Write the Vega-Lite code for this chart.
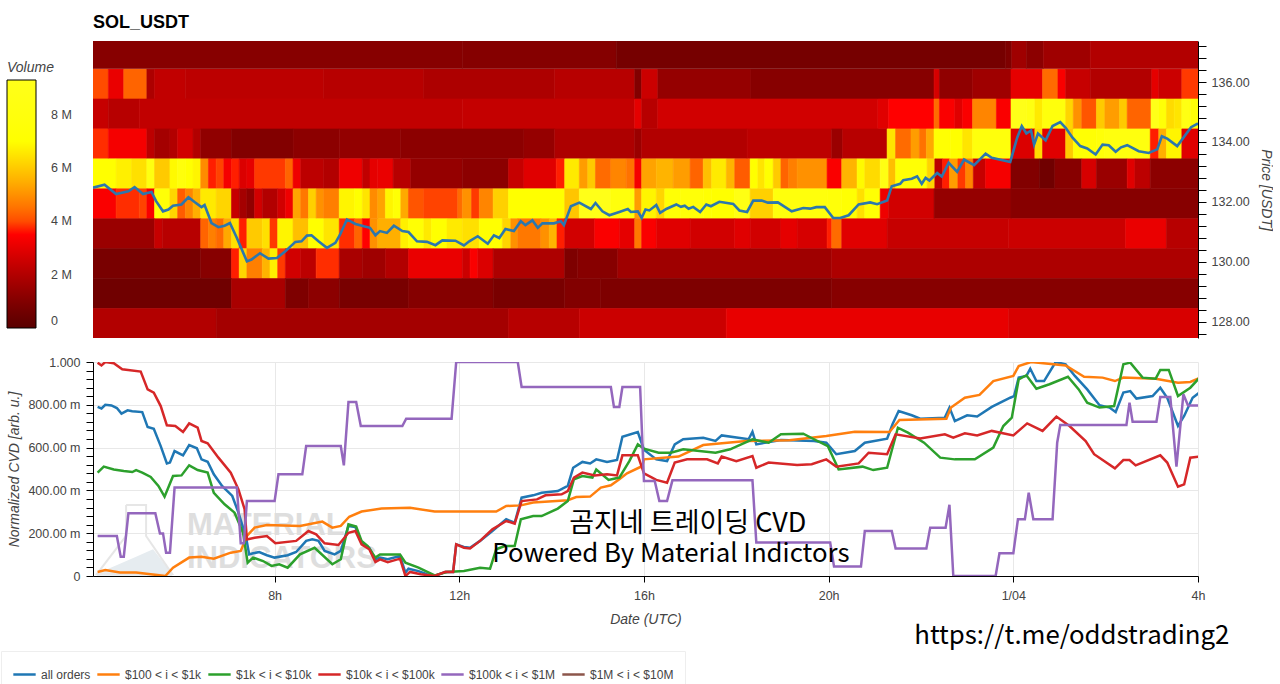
{
"$schema":"https://vega.github.io/schema/vega-lite/v6.json",
"background":"white",
"padding":{"left":0,"top":14,"right":0,"bottom":0},
"bounds":"flush",
"spacing":24,
"config":{"view":{"stroke":null},"font":"Liberation Sans","axis":{"labelFont":"Liberation Sans","labelFontSize":12.5,"labelColor":"#444","titleFont":"Liberation Sans","titleFontSize":14,"titleFontStyle":"italic","titleFontWeight":"normal","titleColor":"#444","domainColor":"#000","tickColor":"#000","gridColor":"#e8e8e8","labelOverlap":false,"labelBound":false,"labelFlush":false}},
"datasets":{
"heatTop":[
{"m":244,"e":724,"l":136.45,"h":137.37,"v":1.1},{"m":724,"e":924,"l":136.45,"h":137.37,"v":1.05},{"m":924,"e":1430,"l":136.45,"h":137.37,"v":0.72},{"m":1430,"e":1438,"l":136.45,"h":137.37,"v":0.9},{"m":1438,"e":1457,"l":136.45,"h":137.37,"v":1.6},{"m":1457,"e":1479,"l":136.45,"h":137.37,"v":1.2},{"m":1479,"e":1540,"l":136.45,"h":137.37,"v":1.6},{"m":1540,"e":1684,"l":136.45,"h":137.37,"v":2}
],
"heat":[
{"m":244,"e":264,"p":136,"v":4},{"m":264,"e":284,"p":136,"v":3.1},{"m":284,"e":314,"p":136,"v":4.3},{"m":314,"e":324,"p":136,"v":1.9},{"m":324,"e":364,"p":136,"v":2.3},{"m":364,"e":544,"p":136,"v":2.2},{"m":544,"e":674,"p":136,"v":2.1},{"m":674,"e":844,"p":136,"v":1.9},{"m":844,"e":948,"p":136,"v":2.1},{"m":948,"e":957,"p":136,"v":1},{"m":957,"e":978,"p":136,"v":2.5},{"m":978,"e":1099,"p":136,"v":1.4},{"m":1099,"e":1337,"p":136,"v":1.1},{"m":1337,"e":1344,"p":136,"v":2.7},{"m":1344,"e":1387,"p":136,"v":1.3},{"m":1387,"e":1437,"p":136,"v":1.6},{"m":1437,"e":1478,"p":136,"v":3},{"m":1478,"e":1498,"p":136,"v":4.4},{"m":1498,"e":1508,"p":136,"v":3.4},{"m":1508,"e":1540,"p":136,"v":2.4},{"m":1540,"e":1620,"p":136,"v":2},{"m":1620,"e":1629,"p":136,"v":3},{"m":1629,"e":1659,"p":136,"v":2.5},{"m":1659,"e":1684,"p":136,"v":3.8},
{"m":244,"e":264,"p":135,"v":2.4},{"m":264,"e":304,"p":135,"v":2.1},{"m":304,"e":724,"p":135,"v":2.3},{"m":724,"e":948,"p":135,"v":2.35},{"m":948,"e":957,"p":135,"v":3},{"m":957,"e":978,"p":135,"v":2.1},{"m":978,"e":1264,"p":135,"v":2.6},{"m":1264,"e":1278,"p":135,"v":2.9},{"m":1278,"e":1337,"p":135,"v":3.5},{"m":1337,"e":1344,"p":135,"v":4.4},{"m":1344,"e":1364,"p":135,"v":3.4},{"m":1364,"e":1374,"p":135,"v":2.9},{"m":1374,"e":1387,"p":135,"v":3.4},{"m":1387,"e":1418,"p":135,"v":4.8},{"m":1418,"e":1437,"p":135,"v":3.4},{"m":1437,"e":1457,"p":135,"v":9.2},{"m":1457,"e":1468,"p":135,"v":8.4},{"m":1468,"e":1478,"p":135,"v":6.6},{"m":1478,"e":1508,"p":135,"v":7.9},{"m":1508,"e":1518,"p":135,"v":6.2},{"m":1518,"e":1529,"p":135,"v":5},{"m":1529,"e":1548,"p":135,"v":4.1},{"m":1548,"e":1559,"p":135,"v":6},{"m":1559,"e":1578,"p":135,"v":5.2},{"m":1578,"e":1588,"p":135,"v":6},{"m":1588,"e":1619,"p":135,"v":4.3},{"m":1619,"e":1629,"p":135,"v":9.2},{"m":1629,"e":1639,"p":135,"v":7.5},{"m":1639,"e":1649,"p":135,"v":6.3},{"m":1649,"e":1659,"p":135,"v":6.5},{"m":1659,"e":1670,"p":135,"v":8.6},{"m":1670,"e":1684,"p":135,"v":7.6},
{"m":244,"e":264,"p":134,"v":3.7},{"m":264,"e":314,"p":134,"v":3.3},{"m":314,"e":324,"p":134,"v":2.2},{"m":324,"e":344,"p":134,"v":1.7},{"m":344,"e":354,"p":134,"v":2},{"m":354,"e":374,"p":134,"v":2.6},{"m":374,"e":384,"p":134,"v":2},{"m":384,"e":424,"p":134,"v":1.3},{"m":424,"e":504,"p":134,"v":1},{"m":504,"e":564,"p":134,"v":1.2},{"m":564,"e":644,"p":134,"v":1.35},{"m":644,"e":804,"p":134,"v":1.2},{"m":804,"e":844,"p":134,"v":1.4},{"m":844,"e":948,"p":134,"v":1.9},{"m":948,"e":957,"p":134,"v":1.5},{"m":957,"e":1094,"p":134,"v":2},{"m":1094,"e":1204,"p":134,"v":2.2},{"m":1204,"e":1218,"p":134,"v":1.5},{"m":1218,"e":1276,"p":134,"v":2.1},{"m":1276,"e":1287,"p":134,"v":6.5},{"m":1287,"e":1307,"p":134,"v":4.4},{"m":1307,"e":1318,"p":134,"v":5.2},{"m":1318,"e":1327,"p":134,"v":4.5},{"m":1327,"e":1337,"p":134,"v":5.4},{"m":1337,"e":1358,"p":134,"v":7.2},{"m":1358,"e":1374,"p":134,"v":7},{"m":1374,"e":1387,"p":134,"v":6.5},{"m":1387,"e":1437,"p":134,"v":7.9},{"m":1437,"e":1468,"p":134,"v":2.8},{"m":1468,"e":1478,"p":134,"v":6.3},{"m":1478,"e":1508,"p":134,"v":2.9},{"m":1508,"e":1518,"p":134,"v":6},{"m":1518,"e":1548,"p":134,"v":7.3},{"m":1548,"e":1559,"p":134,"v":7.6},{"m":1559,"e":1618,"p":134,"v":8.1},{"m":1618,"e":1629,"p":134,"v":3.6},{"m":1629,"e":1639,"p":134,"v":5.5},{"m":1639,"e":1659,"p":134,"v":6.8},{"m":1659,"e":1684,"p":134,"v":2.9},
{"m":244,"e":274,"p":133,"v":7},{"m":274,"e":294,"p":133,"v":6.7},{"m":294,"e":314,"p":133,"v":6.4},{"m":314,"e":324,"p":133,"v":8.3},{"m":324,"e":344,"p":133,"v":6},{"m":344,"e":354,"p":133,"v":6.9},{"m":354,"e":364,"p":133,"v":7.8},{"m":364,"e":374,"p":133,"v":7.1},{"m":374,"e":384,"p":133,"v":6.8},{"m":384,"e":394,"p":133,"v":4.9},{"m":394,"e":404,"p":133,"v":3.6},{"m":404,"e":414,"p":133,"v":3.9},{"m":414,"e":424,"p":133,"v":3.3},{"m":424,"e":434,"p":133,"v":3.6},{"m":434,"e":444,"p":133,"v":2.8},{"m":444,"e":454,"p":133,"v":3},{"m":454,"e":494,"p":133,"v":3.8},{"m":494,"e":504,"p":133,"v":4.3},{"m":504,"e":514,"p":133,"v":3.2},{"m":514,"e":544,"p":133,"v":2.2},{"m":544,"e":564,"p":133,"v":2},{"m":564,"e":594,"p":133,"v":3.2},{"m":594,"e":604,"p":133,"v":2.3},{"m":604,"e":614,"p":133,"v":3},{"m":614,"e":634,"p":133,"v":3.1},{"m":634,"e":657,"p":133,"v":2.1},{"m":657,"e":724,"p":133,"v":1.4},{"m":724,"e":784,"p":133,"v":1.2},{"m":784,"e":804,"p":133,"v":2.4},{"m":804,"e":846,"p":133,"v":2.9},{"m":846,"e":857,"p":133,"v":3.6},{"m":857,"e":876,"p":133,"v":6.6},{"m":876,"e":887,"p":133,"v":5.2},{"m":887,"e":897,"p":133,"v":6},{"m":897,"e":917,"p":133,"v":4.4},{"m":917,"e":937,"p":133,"v":4.8},{"m":937,"e":948,"p":133,"v":4.5},{"m":948,"e":957,"p":133,"v":3.3},{"m":957,"e":976,"p":133,"v":5.3},{"m":976,"e":998,"p":133,"v":5.6},{"m":998,"e":1020,"p":133,"v":5.2},{"m":1020,"e":1037,"p":133,"v":4.3},{"m":1037,"e":1048,"p":133,"v":5.8},{"m":1048,"e":1067,"p":133,"v":6.6},{"m":1067,"e":1078,"p":133,"v":5.6},{"m":1078,"e":1098,"p":133,"v":4.2},{"m":1098,"e":1108,"p":133,"v":7},{"m":1108,"e":1117,"p":133,"v":6.5},{"m":1117,"e":1128,"p":133,"v":7.1},{"m":1128,"e":1138,"p":133,"v":6},{"m":1138,"e":1148,"p":133,"v":4.3},{"m":1148,"e":1159,"p":133,"v":4.7},{"m":1159,"e":1198,"p":133,"v":5},{"m":1198,"e":1217,"p":133,"v":3.4},{"m":1217,"e":1237,"p":133,"v":5.6},{"m":1237,"e":1247,"p":133,"v":6.9},{"m":1247,"e":1267,"p":133,"v":6.3},{"m":1267,"e":1278,"p":133,"v":8.6},{"m":1278,"e":1287,"p":133,"v":5.8},{"m":1287,"e":1328,"p":133,"v":7.4},{"m":1328,"e":1338,"p":133,"v":6.2},{"m":1338,"e":1348,"p":133,"v":2.2},{"m":1348,"e":1357,"p":133,"v":3.6},{"m":1357,"e":1368,"p":133,"v":5.2},{"m":1368,"e":1378,"p":133,"v":3.8},{"m":1378,"e":1388,"p":133,"v":4.8},{"m":1388,"e":1404,"p":133,"v":2.4},{"m":1404,"e":1437,"p":133,"v":3.3},{"m":1437,"e":1474,"p":133,"v":1},{"m":1474,"e":1494,"p":133,"v":0.6},{"m":1494,"e":1529,"p":133,"v":1.1},{"m":1529,"e":1548,"p":133,"v":2.7},{"m":1548,"e":1588,"p":133,"v":1.5},{"m":1588,"e":1598,"p":133,"v":2.9},{"m":1598,"e":1618,"p":133,"v":2.2},{"m":1618,"e":1684,"p":133,"v":1.2},
{"m":244,"e":274,"p":132,"v":3.4},{"m":274,"e":304,"p":132,"v":3.7},{"m":304,"e":314,"p":132,"v":3.9},{"m":314,"e":324,"p":132,"v":3.4},{"m":324,"e":344,"p":132,"v":7.5},{"m":344,"e":354,"p":132,"v":6.2},{"m":354,"e":364,"p":132,"v":4.2},{"m":364,"e":374,"p":132,"v":4.8},{"m":374,"e":384,"p":132,"v":5.5},{"m":384,"e":404,"p":132,"v":6.6},{"m":404,"e":424,"p":132,"v":6.2},{"m":424,"e":434,"p":132,"v":2.4},{"m":434,"e":444,"p":132,"v":1.7},{"m":444,"e":454,"p":132,"v":1.3},{"m":454,"e":464,"p":132,"v":2.6},{"m":464,"e":484,"p":132,"v":2},{"m":484,"e":494,"p":132,"v":2.6},{"m":494,"e":504,"p":132,"v":3.2},{"m":504,"e":514,"p":132,"v":5.3},{"m":514,"e":524,"p":132,"v":4.6},{"m":524,"e":534,"p":132,"v":6.1},{"m":534,"e":544,"p":132,"v":5},{"m":544,"e":564,"p":132,"v":4.7},{"m":564,"e":584,"p":132,"v":6.8},{"m":584,"e":594,"p":132,"v":7.1},{"m":594,"e":604,"p":132,"v":6.5},{"m":604,"e":614,"p":132,"v":4.9},{"m":614,"e":624,"p":132,"v":5.3},{"m":624,"e":634,"p":132,"v":6.8},{"m":634,"e":644,"p":132,"v":7.4},{"m":644,"e":654,"p":132,"v":5.4},{"m":654,"e":674,"p":132,"v":4.1},{"m":674,"e":718,"p":132,"v":3.9},{"m":718,"e":724,"p":132,"v":4.4},{"m":724,"e":736,"p":132,"v":5},{"m":736,"e":746,"p":132,"v":3.8},{"m":746,"e":764,"p":132,"v":4.8},{"m":764,"e":784,"p":132,"v":6.1},{"m":784,"e":857,"p":132,"v":7},{"m":857,"e":876,"p":132,"v":5.9},{"m":876,"e":917,"p":132,"v":9.2},{"m":917,"e":948,"p":132,"v":7.9},{"m":948,"e":957,"p":132,"v":5.2},{"m":957,"e":976,"p":132,"v":6.8},{"m":976,"e":987,"p":132,"v":6.2},{"m":987,"e":1007,"p":132,"v":7.4},{"m":1007,"e":1037,"p":132,"v":7.6},{"m":1037,"e":1048,"p":132,"v":7.2},{"m":1048,"e":1078,"p":132,"v":7},{"m":1078,"e":1098,"p":132,"v":8.6},{"m":1098,"e":1128,"p":132,"v":6.1},{"m":1128,"e":1198,"p":132,"v":7.9},{"m":1198,"e":1217,"p":132,"v":7.7},{"m":1217,"e":1237,"p":132,"v":7.2},{"m":1237,"e":1247,"p":132,"v":6.4},{"m":1247,"e":1267,"p":132,"v":7.3},{"m":1267,"e":1278,"p":132,"v":3.2},{"m":1278,"e":1337,"p":132,"v":2.6},{"m":1337,"e":1437,"p":132,"v":1.4},{"m":1437,"e":1684,"p":132,"v":1.1},
{"m":244,"e":324,"p":131,"v":1.5},{"m":324,"e":334,"p":131,"v":2.4},{"m":334,"e":384,"p":131,"v":2.1},{"m":384,"e":394,"p":131,"v":4.3},{"m":394,"e":404,"p":131,"v":4.7},{"m":404,"e":414,"p":131,"v":4.4},{"m":414,"e":424,"p":131,"v":5.4},{"m":424,"e":434,"p":131,"v":6.4},{"m":434,"e":444,"p":131,"v":3.6},{"m":444,"e":464,"p":131,"v":6},{"m":464,"e":474,"p":131,"v":6.4},{"m":474,"e":484,"p":131,"v":3.8},{"m":484,"e":504,"p":131,"v":6.8},{"m":504,"e":524,"p":131,"v":5.8},{"m":524,"e":544,"p":131,"v":7},{"m":544,"e":564,"p":131,"v":6.5},{"m":564,"e":584,"p":131,"v":3.7},{"m":584,"e":594,"p":131,"v":4.3},{"m":594,"e":604,"p":131,"v":3.5},{"m":604,"e":614,"p":131,"v":5},{"m":614,"e":644,"p":131,"v":5.5},{"m":644,"e":654,"p":131,"v":6.7},{"m":654,"e":674,"p":131,"v":7.3},{"m":674,"e":684,"p":131,"v":6.6},{"m":684,"e":704,"p":131,"v":7},{"m":704,"e":724,"p":131,"v":6.6},{"m":724,"e":746,"p":131,"v":6.4},{"m":746,"e":776,"p":131,"v":7.1},{"m":776,"e":787,"p":131,"v":6.2},{"m":787,"e":796,"p":131,"v":5},{"m":796,"e":826,"p":131,"v":4.6},{"m":826,"e":837,"p":131,"v":5},{"m":837,"e":847,"p":131,"v":5.6},{"m":847,"e":857,"p":131,"v":3.6},{"m":857,"e":896,"p":131,"v":2.6},{"m":896,"e":928,"p":131,"v":3.4},{"m":928,"e":948,"p":131,"v":3},{"m":948,"e":957,"p":131,"v":4.6},{"m":957,"e":976,"p":131,"v":3.4},{"m":976,"e":1020,"p":131,"v":2.9},{"m":1020,"e":1078,"p":131,"v":2.6},{"m":1078,"e":1098,"p":131,"v":2.9},{"m":1098,"e":1138,"p":131,"v":2.6},{"m":1138,"e":1159,"p":131,"v":3},{"m":1159,"e":1198,"p":131,"v":2.7},{"m":1198,"e":1204,"p":131,"v":3.6},{"m":1204,"e":1217,"p":131,"v":4.4},{"m":1217,"e":1276,"p":131,"v":2.9},{"m":1276,"e":1434,"p":131,"v":2.4},{"m":1434,"e":1586,"p":131,"v":2.5},{"m":1586,"e":1639,"p":131,"v":3.1},{"m":1639,"e":1684,"p":131,"v":2.1},
{"m":244,"e":384,"p":130,"v":0.8},{"m":384,"e":424,"p":130,"v":1.1},{"m":424,"e":434,"p":130,"v":3.6},{"m":434,"e":444,"p":130,"v":6.2},{"m":444,"e":464,"p":130,"v":4.7},{"m":464,"e":474,"p":130,"v":5.6},{"m":474,"e":484,"p":130,"v":6.7},{"m":484,"e":494,"p":130,"v":3.8},{"m":494,"e":514,"p":130,"v":2.6},{"m":514,"e":534,"p":130,"v":2.2},{"m":534,"e":564,"p":130,"v":3.7},{"m":564,"e":594,"p":130,"v":1.8},{"m":594,"e":624,"p":130,"v":1.6},{"m":624,"e":654,"p":130,"v":2},{"m":654,"e":724,"p":130,"v":3.1},{"m":724,"e":734,"p":130,"v":2.5},{"m":734,"e":744,"p":130,"v":3.4},{"m":744,"e":764,"p":130,"v":2.8},{"m":764,"e":857,"p":130,"v":1.9},{"m":857,"e":874,"p":130,"v":0.9},{"m":874,"e":926,"p":130,"v":1.1},{"m":926,"e":1204,"p":130,"v":1.6},{"m":1204,"e":1684,"p":130,"v":1.9},
{"m":244,"e":424,"p":129,"v":0.6},{"m":424,"e":494,"p":129,"v":1.8},{"m":494,"e":524,"p":129,"v":0.9},{"m":524,"e":564,"p":129,"v":1.2},{"m":564,"e":654,"p":129,"v":0.8},{"m":654,"e":764,"p":129,"v":1.05},{"m":764,"e":857,"p":129,"v":0.8},{"m":857,"e":904,"p":129,"v":1},{"m":904,"e":1204,"p":129,"v":0.9},{"m":1204,"e":1684,"p":129,"v":1.1},
{"m":244,"e":404,"p":128,"v":2},{"m":404,"e":784,"p":128,"v":1.7},{"m":784,"e":876,"p":128,"v":2.1},{"m":876,"e":1067,"p":128,"v":2.5},{"m":1067,"e":1434,"p":128,"v":3.05},{"m":1434,"e":1684,"p":128,"v":2.75}
],
"price":[
{"m":244,"y":132.47},{"m":259,"y":132.57},{"m":274,"y":132.26},{"m":290,"y":132.35},{"m":298,"y":132.49},{"m":309,"y":132.26},{"m":320,"y":132.33},{"m":326,"y":132.02},{"m":335,"y":131.68},{"m":342,"y":131.74},{"m":348,"y":131.87},{"m":359,"y":131.91},{"m":368,"y":132.15},{"m":376,"y":131.99},{"m":385,"y":131.82},{"m":389,"y":131.89},{"m":398,"y":131.29},{"m":407,"y":131.15},{"m":415,"y":131.2},{"m":422,"y":131.29},{"m":431,"y":130.79},{"m":444,"y":130.01},{"m":450,"y":130.07},{"m":461,"y":130.28},{"m":472,"y":130.1},{"m":483,"y":130.12},{"m":494,"y":130.35},{"m":507,"y":130.66},{"m":515,"y":130.68},{"m":522,"y":130.87},{"m":528,"y":130.88},{"m":537,"y":130.68},{"m":548,"y":130.46},{"m":559,"y":130.63},{"m":565,"y":130.9},{"m":574,"y":131.41},{"m":585,"y":131.26},{"m":596,"y":131.18},{"m":604,"y":131.13},{"m":611,"y":130.88},{"m":617,"y":131.02},{"m":626,"y":130.96},{"m":635,"y":131.2},{"m":646,"y":131.02},{"m":654,"y":130.99},{"m":665,"y":130.68},{"m":678,"y":130.66},{"m":689,"y":130.55},{"m":698,"y":130.71},{"m":715,"y":130.7},
{"m":726,"y":130.54},{"m":733,"y":130.68},{"m":744,"y":130.85},{"m":757,"y":130.6},{"m":765,"y":130.88},{"m":772,"y":130.79},{"m":780,"y":131.09},{"m":791,"y":131.02},{"m":800,"y":131.35},{"m":806,"y":131.22},{"m":815,"y":131.38},{"m":822,"y":131.13},{"m":828,"y":131.28},{"m":843,"y":131.28},{"m":852,"y":131.35},{"m":856,"y":131.22},{"m":865,"y":131.85},{"m":876,"y":131.97},{"m":891,"y":131.76},{"m":897,"y":131.96},{"m":906,"y":131.68},{"m":915,"y":131.55},{"m":928,"y":131.66},{"m":939,"y":131.76},{"m":943,"y":131.66},{"m":952,"y":131.68},{"m":957,"y":131.46},{"m":962,"y":131.74},{"m":967,"y":131.71},{"m":976,"y":131.89},{"m":981,"y":131.63},{"m":989,"y":131.76},{"m":1002,"y":131.91},{"m":1008,"y":131.83},{"m":1013,"y":131.87},{"m":1018,"y":131.77},{"m":1024,"y":131.83},{"m":1033,"y":131.66},{"m":1041,"y":131.91},{"m":1047,"y":131.85},{"m":1058,"y":132},{"m":1076,"y":131.93},{"m":1084,"y":131.71},{"m":1094,"y":131.66},{"m":1102,"y":132.04},{"m":1113,"y":132.04},{"m":1121,"y":131.97},{"m":1134,"y":131.98},{"m":1152,"y":131.68},{"m":1167,"y":131.79},{"m":1176,"y":131.77},{"m":1184,"y":131.82},{"m":1195,"y":131.82},{"m":1206,"y":131.46},
{"m":1215,"y":131.46},{"m":1226,"y":131.55},{"m":1239,"y":131.91},{"m":1254,"y":131.98},{"m":1263,"y":131.92},{"m":1276,"y":132.04},{"m":1282,"y":132.52},{"m":1293,"y":132.6},{"m":1297,"y":132.72},{"m":1308,"y":132.77},{"m":1315,"y":132.85},{"m":1321,"y":132.6},{"m":1326,"y":132.8},{"m":1331,"y":132.71},{"m":1341,"y":132.96},{"m":1347,"y":132.84},{"m":1356,"y":133.3},{"m":1367,"y":133},{"m":1376,"y":133.41},{"m":1389,"y":133.22},{"m":1404,"y":133.61},{"m":1412,"y":133.47},{"m":1436,"y":133.33},{"m":1445,"y":134.14},{"m":1451,"y":134.53},{"m":1457,"y":134.28},{"m":1463,"y":134.38},{"m":1467,"y":133.91},{"m":1472,"y":134.28},{"m":1482,"y":134.05},{"m":1491,"y":134.53},{"m":1501,"y":134.66},{"m":1508,"y":134.47},{"m":1517,"y":134.14},{"m":1527,"y":133.86},{"m":1536,"y":133.78},{"m":1547,"y":133.58},{"m":1556,"y":133.91},{"m":1564,"y":133.89},{"m":1573,"y":133.67},{"m":1580,"y":133.82},{"m":1588,"y":133.89},{"m":1603,"y":133.69},{"m":1616,"y":133.63},{"m":1627,"y":133.75},{"m":1633,"y":134.19},{"m":1640,"y":134.11},{"m":1653,"y":133.86},{"m":1671,"y":134.49},{"m":1679,"y":134.6},{"m":1686,"y":134.58}
],
"allOrders":[
{"m":250,"y":0.79},{"m":255,"y":0.783},{"m":260,"y":0.8},{"m":268,"y":0.797},{"m":275,"y":0.785},{"m":281,"y":0.759},{"m":289,"y":0.774},{"m":295,"y":0.77},{"m":308,"y":0.766},{"m":315,"y":0.696},{"m":323,"y":0.688},{"m":332,"y":0.607},{"m":340,"y":0.526},{"m":344,"y":0.53},{"m":350,"y":0.584},{"m":361,"y":0.564},{"m":369,"y":0.612},{"m":379,"y":0.597},{"m":385,"y":0.545},{"m":393,"y":0.534},{"m":401,"y":0.475},{"m":412,"y":0.42},{"m":425,"y":0.374},{"m":433,"y":0.296},{"m":439,"y":0.226},{"m":443,"y":0.179},{"m":447,"y":0.101},{"m":452,"y":0.106},{"m":460,"y":0.112},{"m":470,"y":0.097},{"m":480,"y":0.086},{"m":497,"y":0.097},{"m":508,"y":0.112},{"m":521,"y":0.164},{"m":529,"y":0.171},{"m":537,"y":0.164},{"m":545,"y":0.117},{"m":558,"y":0.101},{"m":566,"y":0.117},{"m":576,"y":0.234},{"m":585,"y":0.229},{"m":593,"y":0.156},{"m":603,"y":0.132},{"m":611,"y":0.078},{"m":617,"y":0.086},{"m":627,"y":0.078},{"m":643,"y":0.093},{"m":650,"y":0.016},{"m":654,"y":0.034},{"m":667,"y":0.023},{"m":678,"y":0.008},{"m":688,"y":0},{"m":702,"y":0.019},{"m":712,"y":0.019},{"m":716,"y":0.148},{"m":726,"y":0.136},{"m":734,"y":0.132},{"m":747,"y":0.164},{"m":763,"y":0.21},{"m":781,"y":0.265},{"m":792,"y":0.249},{"m":801,"y":0.366},{"m":816,"y":0.377},{"m":827,"y":0.389},{"m":848,"y":0.397},{"m":861,"y":0.421},{"m":868,"y":0.506},{"m":880,"y":0.533},{"m":890,"y":0.526},{"m":898,"y":0.545},{"m":912,"y":0.533},{"m":925,"y":0.542},{"m":932,"y":0.651},{"m":952,"y":0.673},{"m":960,"y":0.59},{"m":976,"y":0.545},{"m":990,"y":0.537},{"m":1000,"y":0.615},{"m":1011,"y":0.639},{"m":1037,"y":0.646},{"m":1053,"y":0.631},{"m":1061,"y":0.657},{"m":1096,"y":0.639},{"m":1101,"y":0.674},{"m":1106,"y":0.615},{"m":1138,"y":0.636},{"m":1181,"y":0.631},{"m":1197,"y":0.623},{"m":1210,"y":0.569},{"m":1234,"y":0.584},{"m":1247,"y":0.623},{"m":1276,"y":0.642},{"m":1283,"y":0.709},{"m":1291,"y":0.771},{"m":1308,"y":0.751},{"m":1319,"y":0.735},{"m":1351,"y":0.74},{"m":1357,"y":0.787},{"m":1364,"y":0.724},{"m":1380,"y":0.751},{"m":1393,"y":0.745},{"m":1412,"y":0.79},{"m":1436,"y":0.833},{"m":1441,"y":0.841},{"m":1447,"y":0.927},{"m":1457,"y":0.935},{"m":1462,"y":0.969},{"m":1470,"y":0.911},{"m":1480,"y":0.911},{"m":1495,"y":1},{"m":1508,"y":0.989},{"m":1520,"y":0.935},{"m":1536,"y":0.872},{"m":1552,"y":0.798},{"m":1565,"y":0.787},{"m":1573,"y":0.766},{"m":1583,"y":0.857},{"m":1592,"y":0.864},{"m":1600,"y":0.829},{"m":1621,"y":0.841},{"m":1631,"y":0.88},{"m":1640,"y":0.833},{"m":1654,"y":0.701},{"m":1662,"y":0.748},{"m":1673,"y":0.833},{"m":1683,"y":0.861}
],
"orange":[
{"m":250,"y":0.019},{"m":260,"y":0.028},{"m":279,"y":0.016},{"m":300,"y":0.016},{"m":319,"y":0.008},{"m":338,"y":0},{"m":348,"y":0.039},{"m":369,"y":0.086},{"m":385,"y":0.09},{"m":401,"y":0.081},{"m":423,"y":0.109},{"m":436,"y":0.117},{"m":444,"y":0.187},{"m":454,"y":0.226},{"m":470,"y":0.238},{"m":513,"y":0.234},{"m":542,"y":0.254},{"m":555,"y":0.226},{"m":566,"y":0.234},{"m":577,"y":0.277},{"m":593,"y":0.301},{"m":619,"y":0.315},{"m":656,"y":0.319},{"m":688,"y":0.301},{"m":726,"y":0.301},{"m":768,"y":0.301},{"m":781,"y":0.327},{"m":800,"y":0.33},{"m":816,"y":0.343},{"m":861,"y":0.354},{"m":872,"y":0.369},{"m":890,"y":0.371},{"m":904,"y":0.413},{"m":917,"y":0.424},{"m":928,"y":0.452},{"m":938,"y":0.48},{"m":958,"y":0.514},{"m":960,"y":0.545},{"m":1005,"y":0.558},{"m":1037,"y":0.612},{"m":1093,"y":0.631},{"m":1149,"y":0.634},{"m":1197,"y":0.654},{"m":1234,"y":0.674},{"m":1279,"y":0.673},{"m":1292,"y":0.729},{"m":1353,"y":0.735},{"m":1359,"y":0.787},{"m":1377,"y":0.833},{"m":1396,"y":0.846},{"m":1414,"y":0.911},{"m":1440,"y":0.935},{"m":1447,"y":0.981},{"m":1463,"y":1},{"m":1508,"y":0.984},{"m":1532,"y":0.931},{"m":1556,"y":0.927},{"m":1572,"y":0.911},{"m":1583,"y":0.927},{"m":1625,"y":0.922},{"m":1654,"y":0.903},{"m":1670,"y":0.907},{"m":1683,"y":0.927}
],
"green":[
{"m":250,"y":0.483},{"m":258,"y":0.511},{"m":271,"y":0.498},{"m":284,"y":0.491},{"m":295,"y":0.486},{"m":300,"y":0.495},{"m":308,"y":0.483},{"m":319,"y":0.463},{"m":329,"y":0.421},{"m":337,"y":0.371},{"m":348,"y":0.467},{"m":359,"y":0.47},{"m":369,"y":0.517},{"m":380,"y":0.495},{"m":393,"y":0.483},{"m":401,"y":0.389},{"m":415,"y":0.335},{"m":428,"y":0.296},{"m":439,"y":0.202},{"m":445,"y":0.062},{"m":452,"y":0.086},{"m":465,"y":0.07},{"m":476,"y":0.047},{"m":486,"y":0.055},{"m":497,"y":0.039},{"m":513,"y":0.101},{"m":532,"y":0.132},{"m":555,"y":0.055},{"m":566,"y":0.078},{"m":576,"y":0.241},{"m":586,"y":0.231},{"m":593,"y":0.164},{"m":601,"y":0.14},{"m":611,"y":0.086},{"m":617,"y":0.101},{"m":643,"y":0.101},{"m":650,"y":0.062},{"m":667,"y":0.039},{"m":688,"y":0.003},{"m":704,"y":0.019},{"m":726,"y":0.023},{"m":747,"y":0.039},{"m":760,"y":0.034},{"m":768,"y":0.125},{"m":779,"y":0.14},{"m":792,"y":0.14},{"m":800,"y":0.265},{"m":816,"y":0.28},{"m":827,"y":0.28},{"m":848,"y":0.315},{"m":861,"y":0.35},{"m":869,"y":0.452},{"m":880,"y":0.467},{"m":893,"y":0.46},{"m":898,"y":0.498},{"m":914,"y":0.449},{"m":928,"y":0.46},{"m":941,"y":0.537},{"m":952,"y":0.615},{"m":960,"y":0.595},{"m":979,"y":0.576},{"m":995,"y":0.576},{"m":1011,"y":0.592},{"m":1053,"y":0.576},{"m":1072,"y":0.592},{"m":1101,"y":0.639},{"m":1122,"y":0.623},{"m":1138,"y":0.662},{"m":1167,"y":0.665},{"m":1181,"y":0.639},{"m":1199,"y":0.607},{"m":1213,"y":0.498},{"m":1244,"y":0.511},{"m":1258,"y":0.495},{"m":1276,"y":0.506},{"m":1290,"y":0.693},{"m":1303,"y":0.67},{"m":1324,"y":0.623},{"m":1345,"y":0.553},{"m":1364,"y":0.545},{"m":1390,"y":0.545},{"m":1414,"y":0.6},{"m":1427,"y":0.701},{"m":1438,"y":0.74},{"m":1447,"y":0.919},{"m":1457,"y":0.938},{"m":1470,"y":0.875},{"m":1487,"y":0.896},{"m":1511,"y":0.931},{"m":1525,"y":0.872},{"m":1536,"y":0.81},{"m":1552,"y":0.787},{"m":1571,"y":0.794},{"m":1583,"y":0.989},{"m":1592,"y":0.997},{"m":1608,"y":0.927},{"m":1625,"y":0.922},{"m":1631,"y":0.963},{"m":1642,"y":0.963},{"m":1654,"y":0.841},{"m":1670,"y":0.88},{"m":1683,"y":0.93}
],
"red":[
{"m":250,"y":0.997},{"m":255,"y":0.984},{"m":260,"y":1},{"m":271,"y":0.994},{"m":282,"y":0.966},{"m":306,"y":0.955},{"m":315,"y":0.872},{"m":323,"y":0.857},{"m":332,"y":0.794},{"m":340,"y":0.704},{"m":351,"y":0.701},{"m":361,"y":0.673},{"m":369,"y":0.713},{"m":380,"y":0.693},{"m":385,"y":0.631},{"m":393,"y":0.62},{"m":407,"y":0.553},{"m":423,"y":0.483},{"m":433,"y":0.405},{"m":441,"y":0.312},{"m":444,"y":0.171},{"m":454,"y":0.179},{"m":470,"y":0.187},{"m":481,"y":0.153},{"m":508,"y":0.164},{"m":524,"y":0.21},{"m":534,"y":0.195},{"m":545,"y":0.153},{"m":563,"y":0.145},{"m":576,"y":0.202},{"m":585,"y":0.21},{"m":593,"y":0.148},{"m":603,"y":0.125},{"m":611,"y":0.065},{"m":617,"y":0.078},{"m":627,"y":0.065},{"m":643,"y":0.081},{"m":650,"y":0},{"m":656,"y":0.019},{"m":670,"y":0.008},{"m":688,"y":0},{"m":702,"y":0.02},{"m":712,"y":0.019},{"m":716,"y":0.148},{"m":726,"y":0.132},{"m":734,"y":0.129},{"m":747,"y":0.164},{"m":763,"y":0.218},{"m":781,"y":0.257},{"m":792,"y":0.245},{"m":801,"y":0.35},{"m":821,"y":0.358},{"m":832,"y":0.377},{"m":853,"y":0.382},{"m":861,"y":0.397},{"m":869,"y":0.46},{"m":880,"y":0.483},{"m":896,"y":0.47},{"m":912,"y":0.475},{"m":925,"y":0.47},{"m":932,"y":0.564},{"m":952,"y":0.564},{"m":960,"y":0.48},{"m":976,"y":0.449},{"m":990,"y":0.436},{"m":1000,"y":0.53},{"m":1016,"y":0.545},{"m":1042,"y":0.545},{"m":1056,"y":0.526},{"m":1061,"y":0.558},{"m":1080,"y":0.537},{"m":1101,"y":0.561},{"m":1106,"y":0.506},{"m":1122,"y":0.53},{"m":1159,"y":0.519},{"m":1178,"y":0.522},{"m":1197,"y":0.545},{"m":1210,"y":0.511},{"m":1239,"y":0.526},{"m":1252,"y":0.576},{"m":1276,"y":0.569},{"m":1287,"y":0.662},{"m":1319,"y":0.643},{"m":1351,"y":0.662},{"m":1362,"y":0.646},{"m":1377,"y":0.667},{"m":1393,"y":0.657},{"m":1412,"y":0.678},{"m":1440,"y":0.657},{"m":1458,"y":0.713},{"m":1478,"y":0.678},{"m":1496,"y":0.745},{"m":1513,"y":0.701},{"m":1534,"y":0.631},{"m":1545,"y":0.569},{"m":1572,"y":0.503},{"m":1583,"y":0.542},{"m":1591,"y":0.542},{"m":1599,"y":0.517},{"m":1631,"y":0.564},{"m":1640,"y":0.53},{"m":1654,"y":0.417},{"m":1662,"y":0.428},{"m":1670,"y":0.553},{"m":1683,"y":0.558}
],
"purple":[
{"m":250,"y":0.187},{"m":275,"y":0.187},{"m":280,"y":0.09},{"m":284,"y":0.09},{"m":290,"y":0.293},{"m":325,"y":0.293},{"m":331,"y":0.199},{"m":335,"y":0.199},{"m":339,"y":0.109},{"m":344,"y":0.109},{"m":350,"y":0.413},{"m":431,"y":0.413},{"m":436,"y":0.153},{"m":440,"y":0.153},{"m":444,"y":0.35},{"m":480,"y":0.35},{"m":485,"y":0.475},{"m":516,"y":0.475},{"m":521,"y":0.607},{"m":566,"y":0.607},{"m":570,"y":0.517},{"m":576,"y":0.813},{"m":586,"y":0.813},{"m":592,"y":0.701},{"m":646,"y":0.701},{"m":651,"y":0.735},{"m":710,"y":0.735},{"m":716,"y":1},{"m":796,"y":1},{"m":801,"y":0.883},{"m":917,"y":0.883},{"m":921,"y":0.79},{"m":928,"y":0.79},{"m":932,"y":0.883},{"m":955,"y":0.883},{"m":960,"y":0.444},{"m":974,"y":0.444},{"m":980,"y":0.35},{"m":990,"y":0.35},{"m":997,"y":0.447},{"m":1101,"y":0.447},{"m":1106,"y":0.156},{"m":1202,"y":0.156},{"m":1207,"y":0.044},{"m":1242,"y":0.044},{"m":1247,"y":0.21},{"m":1282,"y":0.21},{"m":1287,"y":0.129},{"m":1327,"y":0.129},{"m":1332,"y":0.226},{"m":1352,"y":0.226},{"m":1357,"y":0.333},{"m":1362,"y":0},{"m":1417,"y":0},{"m":1422,"y":0.106},{"m":1440,"y":0.106},{"m":1446,"y":0.265},{"m":1455,"y":0.265},{"m":1460,"y":0.389},{"m":1466,"y":0.265},{"m":1491,"y":0.265},{"m":1497,"y":0.623},{"m":1501,"y":0.706},{"m":1587,"y":0.706},{"m":1591,"y":0.81},{"m":1595,"y":0.721},{"m":1626,"y":0.721},{"m":1631,"y":0.836},{"m":1644,"y":0.836},{"m":1652,"y":0.511},{"m":1661,"y":0.849},{"m":1667,"y":0.797},{"m":1683,"y":0.797}
],
"flask":[{"o":1,"m":287,"y":0.332},{"o":2,"m":313,"y":0.332},{"o":3,"m":313,"y":0.187},{"o":4,"m":347,"y":0.009},{"o":5,"m":249,"y":0.009},{"o":6,"m":287,"y":0.187},{"o":7,"m":287,"y":0.332}],
"flaskFill":[{"m":249,"y":0.01},{"m":300,"y":0.09},{"m":322,"y":0.125},{"m":347,"y":0.01}],
"watermark":[{"m":366,"y":0.234,"label":"MATERIAL"},{"m":366,"y":0.08,"label":"INDICATORS"}],
"titleNote":[{"m":1017,"y":0.245,"label":"곰지네 트레이딩 CVD"}],
"notes":[{"m":995,"y":0.103,"label":"Powered By Material Indictors"},{"m":1516,"y":-0.28,"label":"https://t.me/oddstrading2"}]
},
"vconcat":[
{
"width":1105,"height":297,
"title":{"text":"SOL_USDT","anchor":"start","frame":"group","fontSize":18,"fontWeight":"bold","font":"Liberation Sans","color":"#000","offset":8},
"layer":[
{"data":{"name":"heat"},
"mark":{"type":"rect","clip":true,"binSpacing":0,"strokeWidth":0.6},
"encoding":{
"x":{"field":"m","type":"quantitative","scale":{"domain":[244,1680],"nice":false,"zero":false},"axis":null},
"x2":{"field":"e"},
"y":{"field":"p","type":"quantitative","bin":{"step":1,"extent":[127.45,137.45],"nice":false},"scale":{"domain":[127.45,137.37],"nice":false,"zero":false},
"axis":{"orient":"right","title":"Price [USDT]","titlePadding":9,"tickCount":100,"values":[127.6,128,128.4,128.8,129.2,129.6,130,130.4,130.8,131.2,131.6,132,132.4,132.8,133.2,133.6,134,134.4,134.8,135.2,135.6,136,136.4,136.8,137.2],"labelExpr":"round(datum.value*10)%20==0 ? format(datum.value,'.2f') : ''","tickSize":8,"encode":{"ticks":{"update":{"x2":{"signal":"round(datum.value*10)%20==0 ? 8 : 4"}}}},"labelPadding":5,"grid":false}},
"color":{"field":"v","type":"quantitative","scale":{"domain":[0,3.5,7,9.3],"range":["#000000","#ff0000","#ffff00","#ffffff"]},
"legend":{"orient":"none","legendX":-86,"legendY":20,"title":"Volume","titleFont":"Liberation Sans","titleFontStyle":"italic","titleFontWeight":"normal","titleFontSize":14,"titleColor":"#444","gradientLength":248,"gradientThickness":29,"gradientStrokeColor":"#000","gradientStrokeWidth":1,"values":[0,2,4,6,8],"labelExpr":"datum.value==0 ? '0' : datum.value+' M'","labelFont":"Liberation Sans","labelFontSize":12.5,"labelColor":"#444","labelOffset":15,"tickCount":40}},
"stroke":{"field":"v","type":"quantitative","scale":{"domain":[0,3.5,7,9.3],"range":["#000000","#ff0000","#ffff00","#ffffff"]},"legend":null}
}},
{"data":{"name":"heatTop"},
"mark":{"type":"rect","clip":true,"strokeWidth":0.6},
"encoding":{
"x":{"field":"m","type":"quantitative"},
"x2":{"field":"e"},
"y":{"field":"l","type":"quantitative"},
"y2":{"field":"h"},
"color":{"field":"v","type":"quantitative"},
"stroke":{"field":"v","type":"quantitative"}
}},
{"data":{"name":"price"},
"mark":{"type":"line","clip":true,"color":"#2c77ad","strokeWidth":2.6},
"encoding":{"x":{"field":"m","type":"quantitative"},"y":{"field":"y","type":"quantitative"}}}
]
},
{
"width":1105,"height":214,
"layer":[
{"data":{"name":"flaskFill"},"mark":{"type":"area","color":"#e6ecf0","clip":true},
"encoding":{"x":{"field":"m","type":"quantitative","scale":{"domain":[244,1680],"nice":false,"zero":false},
"axis":{"title":"Date (UTC)","titlePadding":11,"values":[480,720,960,1200,1440,1680],"labelExpr":"datum.value==1440 ? '1/04' : (datum.value%1440)/60+'h'","tickSize":6,"labelPadding":7,"grid":true,"gridWidth":1}},
"y":{"field":"y","type":"quantitative","scale":{"domain":[0,1],"nice":false},
"axis":{"title":"Normalized CVD [arb. u.]","titlePadding":6,"tickCount":100,"values":[0,0.04,0.08,0.12,0.16,0.2,0.24,0.28,0.32,0.36,0.4,0.44,0.48,0.52,0.56,0.6,0.64,0.68,0.72,0.76,0.8,0.84,0.88,0.92,0.96,1],"labelExpr":"datum.value==0 ? '0' : datum.value==1 ? '1.000' : round(datum.value*1000)%200==0 ? format(datum.value*1000,'.2f')+' m' : ''","tickSize":7,"encode":{"ticks":{"update":{"x2":{"signal":"round(datum.value*1000)%200==0 ? -7 : -4"}}}},"labelPadding":6,"grid":true,"gridOpacity":{"condition":{"test":"round(datum.value*1000)%200==0","value":1},"value":0}}}}},
{"data":{"name":"flask"},"mark":{"type":"line","color":"#e6e6e6","strokeWidth":2,"clip":true},
"encoding":{"x":{"field":"m","type":"quantitative"},"y":{"field":"y","type":"quantitative"},"order":{"field":"o"}}},
{"data":{"name":"watermark"},"mark":{"type":"text","align":"left","baseline":"middle","font":"Liberation Sans","fontWeight":"bold","fontSize":31,"color":"#dedede"},
"encoding":{"x":{"field":"m","type":"quantitative"},"y":{"field":"y","type":"quantitative"},"text":{"field":"label"}}},
{"data":{"name":"allOrders"},"mark":{"type":"line","clip":true,"strokeWidth":2.5},
"encoding":{"x":{"field":"m","type":"quantitative"},"y":{"field":"y","type":"quantitative"},
"color":{"datum":"all orders","scale":{"domain":["all orders","$100 < i < $1k","$1k < i < $10k","$10k < i < $100k","$100k < i < $1M","$1M < i < $10M"],"range":["#1f77b4","#ff7f0e","#2ca02c","#d62728","#9467bd","#8c564b"]},
"legend":{"orient":"none","legendX":-92,"legendY":289,"title":null,"direction":"horizontal","columns":6,"gridAlign":"none","symbolType":"stroke","symbolSize":500,"symbolStrokeWidth":2.5,"labelFont":"Liberation Sans","labelFontSize":12,"labelColor":"#444","columnPadding":1,"padding":11,"strokeColor":"#eeeeee","fillColor":"#ffffff"}}}},
{"data":{"name":"orange"},"mark":{"type":"line","clip":true,"strokeWidth":2.5},"encoding":{"x":{"field":"m","type":"quantitative"},"y":{"field":"y","type":"quantitative"},"color":{"datum":"$100 < i < $1k"}}},
{"data":{"name":"green"},"mark":{"type":"line","clip":true,"strokeWidth":2.5},"encoding":{"x":{"field":"m","type":"quantitative"},"y":{"field":"y","type":"quantitative"},"color":{"datum":"$1k < i < $10k"}}},
{"data":{"name":"red"},"mark":{"type":"line","clip":true,"strokeWidth":2.5},"encoding":{"x":{"field":"m","type":"quantitative"},"y":{"field":"y","type":"quantitative"},"color":{"datum":"$10k < i < $100k"}}},
{"data":{"name":"purple"},"mark":{"type":"line","clip":true,"strokeWidth":2.5},"encoding":{"x":{"field":"m","type":"quantitative"},"y":{"field":"y","type":"quantitative"},"color":{"datum":"$100k < i < $1M"}}},
{"data":{"name":"titleNote"},"mark":{"type":"text","align":"center","baseline":"middle","font":"Noto Sans CJK KR","fontSize":27,"color":"#000"},
"encoding":{"x":{"field":"m","type":"quantitative"},"y":{"field":"y","type":"quantitative"},"text":{"field":"label"}}},
{"data":{"name":"notes"},"mark":{"type":"text","align":"center","baseline":"middle","font":"Noto Sans CJK KR","fontSize":25.8,"color":"#000"},
"encoding":{"x":{"field":"m","type":"quantitative"},"y":{"field":"y","type":"quantitative"},"text":{"field":"label"}}}
]
}
]
}
